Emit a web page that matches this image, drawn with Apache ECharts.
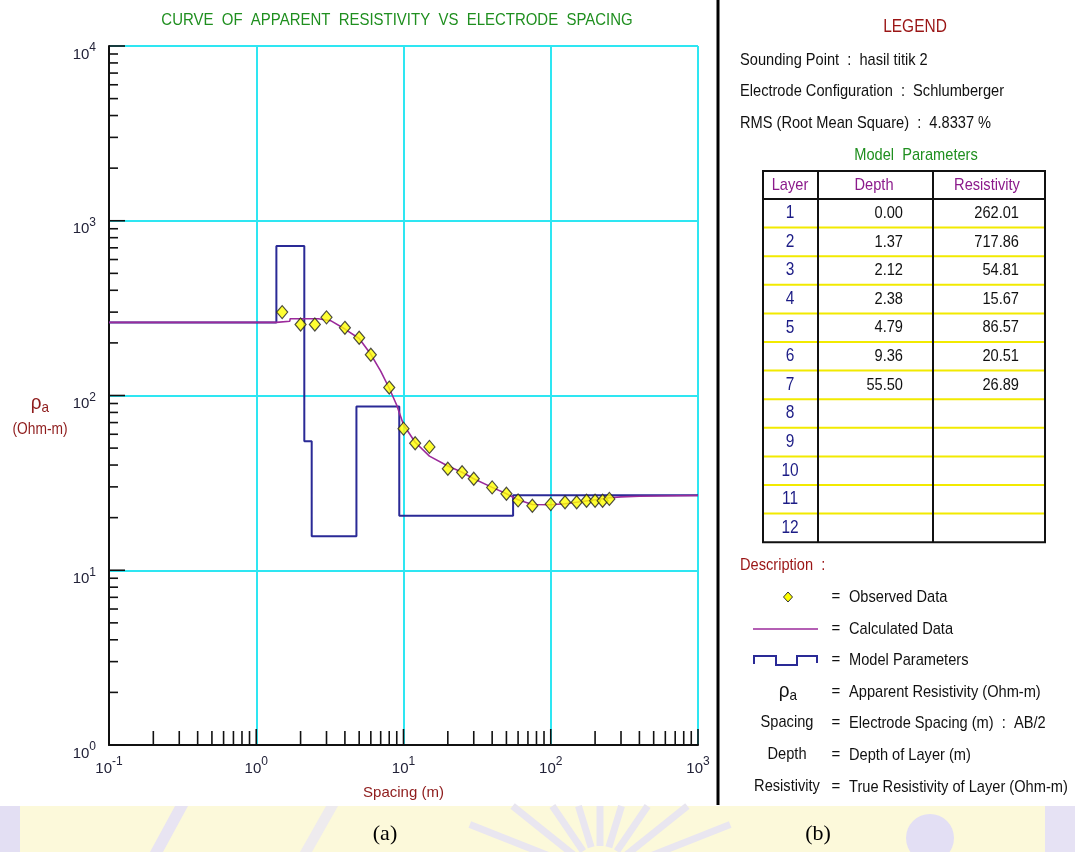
<!DOCTYPE html>
<html>
<head>
<meta charset="utf-8">
<script src="https://cdn.jsdelivr.net/npm/echarts@6/dist/echarts.min.js"></script>
<style>
html,body{margin:0;padding:0;background:#fff;}
#main{width:1075px;height:852px;}
</style>
</head>
<body>
<div id="main"></div>
<script>
// ---------------- DATA ----------------
const spacing = [1.5, 2, 2.5, 3, 4, 5, 6, 8, 10, 12, 15, 20, 25, 30, 40, 50, 60, 75, 100, 125, 150, 175, 200, 225, 250];
const observedRho = [300, 255, 255, 280, 244, 214, 171, 111, 64.6, 53.3, 50.8, 38.1, 36.4, 33.4, 29.8, 27.4, 25.1, 23.4, 23.9, 24.5, 24.5, 25.0, 25.0, 25.0, 25.6];
const calcSpacing = [0.1, 1.37, 1.38, 1.69, 1.70, 2.64, 3.2, 4, 5, 6, 7, 8, 9, 10, 12, 15, 20, 25, 30, 40, 50, 60, 75, 100, 125, 150, 200, 250, 300, 400, 1000];
const calcRho = [262, 262, 266, 266, 275, 275, 268, 240, 212, 172, 138, 110, 88, 68, 54, 45, 39.5, 36.4, 33.4, 29.8, 27.4, 25.3, 23.8, 23.7, 24.0, 24.5, 25.3, 26.0, 26.3, 26.5, 26.8];
const layerNumbers = [1, 2, 3, 4, 5, 6, 7, 8, 9, 10, 11, 12];
const layerDepths = [0.00, 1.37, 2.12, 2.38, 4.79, 9.36, 55.50];
const layerResistivities = [262.01, 717.86, 54.81, 15.67, 86.57, 20.51, 26.89];
const xRange = [0.1, 1000];
const yRange = [1, 10000];
const xDecades = [0.1, 1, 10, 100, 1000];
const yDecades = [1, 10, 100, 1000, 10000];
const legendInfo = [
  'Sounding Point  :  hasil titik 2',
  'Electrode Configuration  :  Schlumberger',
  'RMS (Root Mean Square)  :  4.8337 %'
];
const descLabels = ['Spacing', 'Depth', 'Resistivity'];
const descTexts = ['Observed Data', 'Calculated Data', 'Model Parameters', 'Apparent Resistivity (Ohm-m)',
  'Electrode Spacing (m)  :  AB/2', 'Depth of Layer (m)', 'True Resistivity of Layer (Ohm-m)'];

// ---------------- BUILD ----------------
const FF = "'Liberation Sans', Arial, sans-serif";
const SX = 0.86;
const observed = spacing.map((s, i) => [s, observedRho[i]]);
const calculated = calcSpacing.map((s, i) => [s, calcRho[i]]);
const model = [];
for (let i = 0; i < layerResistivities.length; i++) {
  const x0 = i === 0 ? xRange[0] : layerDepths[i];
  const x1 = i + 1 < layerDepths.length ? layerDepths[i + 1] : xRange[1];
  model.push([x0, layerResistivities[i]]);
  model.push([x1, layerResistivities[i]]);
}
function minorOf(decades) {
  const out = [];
  for (let k = 0; k < decades.length - 1; k++) for (let m = 2; m <= 9; m++) out.push(+(m * decades[k]).toPrecision(6));
  return out;
}
const xMinor = minorOf(xDecades), yMinor = minorOf(yDecades);

function expLabel(v) {
  const e = Math.round(Math.log10(v));
  return '{b|10}{e|' + e + '}';
}
function tickSeries(values, horizontal, len) {
  return {
    type: 'custom', silent: true, z: 5, clip: false,
    data: values.map(v => horizontal ? [v, yRange[0]] : [xRange[0], v]),
    renderItem: function (params, api) {
      const p = api.coord([api.value(0), api.value(1)]);
      const shape = horizontal ? {x1: p[0], y1: p[1], x2: p[0], y2: p[1] - len}
                               : {x1: p[0], y1: p[1], x2: p[0] + len, y2: p[1]};
      return {type: 'line', shape: shape, style: {stroke: '#111', lineWidth: 1.6}};
    }
  };
}
function T(text, x, y, o) {
  o = o || {};
  return {type: 'text', x: x, y: y, scaleX: o.sx || SX,
    style: {text: text, fill: o.fill || '#111', fontSize: o.fs || 17, fontFamily: o.ff || FF,
      align: o.align || 'left', verticalAlign: 'middle'}};
}

const GX = 109, GY = 46, GW = 589, GH = 699;
const graphic = [];
// bottom band (watermark-ish background)
graphic.push({type: 'rect', shape: {x: 0, y: 806, width: 1075, height: 46}, style: {fill: '#fcf9da'}, z: -1});
graphic.push({type: 'rect', shape: {x: 0, y: 806, width: 20, height: 46}, style: {fill: '#e3dff3'}, z: -1});
graphic.push({type: 'polygon', shape: {points: [[150, 852], [175, 806], [188, 806], [163, 852]]}, style: {fill: '#e8e4f2'}, z: -1});
graphic.push({type: 'polygon', shape: {points: [[300, 852], [326, 806], [338, 806], [312, 852]]}, style: {fill: '#eeebee'}, z: -1});
for (let k = 0; k < 9; k++) {
  const a = Math.PI * (0.12 + k * 0.095);
  const L = Math.min(140, 70 / Math.sin(a));
  graphic.push({type: 'line', shape: {x1: 600 + 30 * Math.cos(a), y1: 876 - 30 * Math.sin(a), x2: 600 + L * Math.cos(a), y2: 876 - L * Math.sin(a)}, style: {stroke: '#e9e6f0', lineWidth: 7}, z: -1});
}
graphic.push({type: 'circle', shape: {cx: 930, cy: 838, r: 24}, style: {fill: '#e3dff4'}, z: -1});
graphic.push({type: 'rect', shape: {x: 1045, y: 806, width: 30, height: 46}, style: {fill: '#e6e2f4'}, z: -1});
graphic.push(T('(a)', 385, 834, {fs: 22, ff: "'Liberation Serif',serif", align: 'center', sx: 1, fill: '#000'}));
graphic.push(T('(b)', 818, 834, {fs: 22, ff: "'Liberation Serif',serif", align: 'center', sx: 1, fill: '#000'}));

// title
graphic.push(T('CURVE  OF  APPARENT  RESISTIVITY  VS  ELECTRODE  SPACING', 397, 20, {fill: '#1f8f1f', fs: 17, align: 'center', sx: 0.88}));
// y axis name
graphic.push({type: 'text', x: 40, y: 404, scaleX: 0.9, style: {text: '{r|ρ}{s|a}', align: 'center', verticalAlign: 'middle', rich: {r: {fontSize: 21, fill: '#8e1b1b', fontFamily: FF, lineHeight: 22, verticalAlign: 'top'}, s: {fontSize: 15, fill: '#8e1b1b', fontFamily: FF, lineHeight: 22, verticalAlign: 'bottom'}}}});
graphic.push(T('(Ohm-m)', 40, 430, {fill: '#8e1b1b', fs: 16, align: 'center'}));
// separator
graphic.push({type: 'line', shape: {x1: 718, y1: 0, x2: 718, y2: 805}, style: {stroke: '#000', lineWidth: 3}});

// legend panel
graphic.push(T('LEGEND', 915, 27, {fill: '#9a1515', fs: 18, align: 'center'}));
const infoY = [60, 91, 123];
legendInfo.forEach((t, i) => graphic.push(T(t, 740, infoY[i], {})));
graphic.push(T('Model  Parameters', 916, 155, {fill: '#1f8f1f', fs: 17, align: 'center'}));
// table
const TL = 763, TR = 1045, TT = 171, TH = 199, C1 = 818, C2 = 933, RH = 28.6;
const TB = TH + RH * layerNumbers.length;
for (let r = 1; r < layerNumbers.length; r++) {
  const y = TH + RH * r;
  graphic.push({type: 'line', shape: {x1: TL, y1: y, x2: TR, y2: y}, style: {stroke: '#f2ea00', lineWidth: 2}});
}
graphic.push({type: 'rect', shape: {x: TL, y: TT, width: TR - TL, height: TB - TT}, style: {fill: 'none', stroke: '#111', lineWidth: 2}});
graphic.push({type: 'line', shape: {x1: TL, y1: TH, x2: TR, y2: TH}, style: {stroke: '#111', lineWidth: 2}});
graphic.push({type: 'line', shape: {x1: C1, y1: TT, x2: C1, y2: TB}, style: {stroke: '#111', lineWidth: 2}});
graphic.push({type: 'line', shape: {x1: C2, y1: TT, x2: C2, y2: TB}, style: {stroke: '#111', lineWidth: 2}});
[['Layer', 790], ['Depth', 874], ['Resistivity', 987]].forEach(h => graphic.push(T(h[0], h[1], 185, {fill: '#8b1a8b', fs: 17, align: 'center'})));
layerNumbers.forEach((n, i) => {
  const y = TH + RH * i + RH / 2;
  graphic.push(T(String(n), 790, y, {fill: '#1c1c86', fs: 18, align: 'center'}));
  if (i < layerDepths.length) {
    graphic.push(T(layerDepths[i].toFixed(2), 903, y, {fs: 17, align: 'right'}));
    graphic.push(T(layerResistivities[i].toFixed(2), 1019, y, {fs: 17, align: 'right'}));
  }
});
// description
graphic.push(T('Description  :', 740, 565, {fill: '#9a1515'}));
const descY = [597, 629, 660, 692, 723, 755, 787];
descTexts.forEach((t, i) => {
  graphic.push(T('=', 836, descY[i], {align: 'center', sx: 1, fs: 15}));
  graphic.push(T(t, 849, descY[i], {}));
});
graphic.push({type: 'polygon', shape: {points: [[788, 592], [792.5, 597], [788, 602], [783.5, 597]]}, style: {fill: '#ffff00', stroke: '#333', lineWidth: 1}});
graphic.push({type: 'line', shape: {x1: 753, y1: 629, x2: 818, y2: 629}, style: {stroke: '#9b2a9b', lineWidth: 1.5}});
graphic.push({type: 'polyline', shape: {points: [[754, 664], [754, 656], [776, 656], [776, 665], [797, 665], [797, 656], [817, 656], [817, 663]]}, style: {stroke: '#2a2a96', lineWidth: 2, fill: 'none'}});
graphic.push({type: 'text', x: 788, y: 692, scaleX: 0.9, style: {text: '{r|ρ}{s|a}', align: 'center', verticalAlign: 'middle', rich: {r: {fontSize: 21, fill: '#111', fontFamily: FF, lineHeight: 22, verticalAlign: 'top'}, s: {fontSize: 15, fill: '#111', fontFamily: FF, lineHeight: 22, verticalAlign: 'bottom'}}}});
descLabels.forEach((t, i) => graphic.push(T(t, 787, descY[i + 4] - 1, {align: 'center'})));

const labelRich = {
  b: {fontSize: 15, fontFamily: FF, color: '#222238', lineHeight: 20, verticalAlign: 'bottom'},
  e: {fontSize: 12, fontFamily: FF, color: '#222238', lineHeight: 20, verticalAlign: 'top'}
};
const chart = echarts.init(document.getElementById('main'), null, {renderer: 'canvas'});
chart.setOption({
  animation: false,
  backgroundColor: '#fff',
  grid: {left: GX, top: GY, width: GW, height: GH, containLabel: false},
  xAxis: {
    type: 'log', logBase: 10, min: xRange[0], max: xRange[1],
    name: 'Spacing (m)', nameLocation: 'middle', nameGap: 40,
    nameTextStyle: {color: '#8e1b1b', fontSize: 15, fontFamily: FF},
    axisLine: {show: true, lineStyle: {color: '#111', width: 2}},
    axisTick: {show: false},
    splitLine: {show: true, showMinLine: false, lineStyle: {color: '#2ee6f2', width: 2}},
    axisLabel: {margin: 11, formatter: expLabel, rich: labelRich}
  },
  yAxis: {
    type: 'log', logBase: 10, min: yRange[0], max: yRange[1],
    axisLine: {show: true, lineStyle: {color: '#111', width: 2}},
    axisTick: {show: false},
    splitLine: {show: true, showMinLine: false, lineStyle: {color: '#2ee6f2', width: 2}},
    axisLabel: {margin: 13, formatter: expLabel, rich: labelRich, padding: [12, 0, 0, 0]}
  },
  graphic: graphic,
  series: [
    tickSeries(xMinor, true, 14),
    tickSeries(xDecades, true, 16),
    tickSeries(yMinor, false, 9),
    tickSeries(yDecades, false, 16),
    {type: 'line', name: 'Model Parameters', data: model, showSymbol: false, symbol: 'none', z: 6,
      lineStyle: {color: '#2a2a96', width: 2}},
    {type: 'line', name: 'Calculated Data', data: calculated, showSymbol: false, symbol: 'none', z: 7,
      lineStyle: {color: '#9b2a9b', width: 1.6}},
    {type: 'scatter', name: 'Observed Data', data: observed, symbol: 'diamond', symbolSize: [11, 13], z: 8,
      itemStyle: {color: '#ffff00', borderColor: '#222', borderWidth: 1.2}}
  ]
});
</script>
</body>
</html>
